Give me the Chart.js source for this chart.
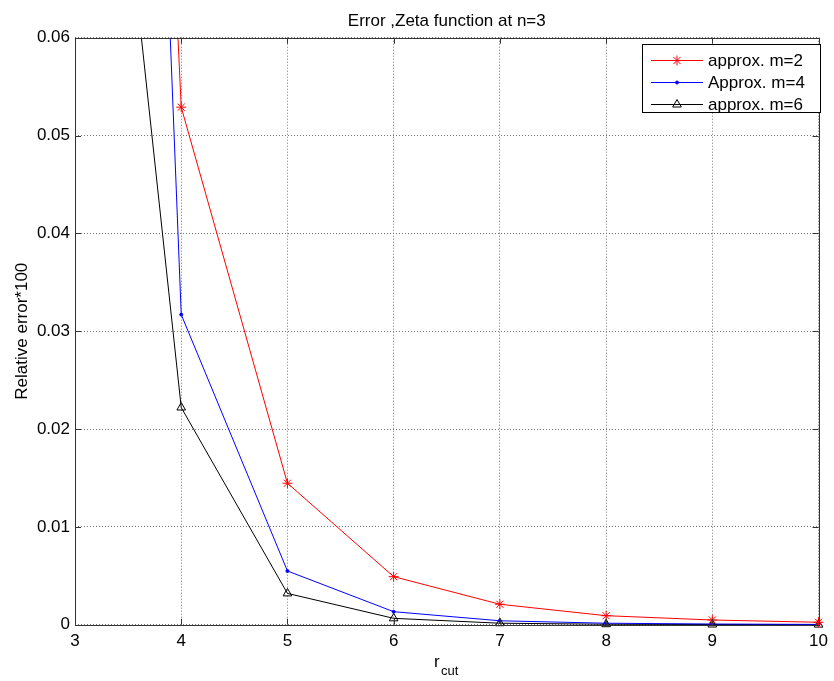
<!DOCTYPE html>
<html>
<head>
<meta charset="utf-8">
<title>Error, Zeta function at n=3</title>
<script src="https://cdn.jsdelivr.net/npm/chart.js@4.4.0/dist/chart.umd.min.js"></script>
<style>
  html, body { margin: 0; padding: 0; background: #fff; }
  #wrap { width: 834px; height: 681px; }
</style>
</head>
<body>
<div id="wrap"><canvas id="errChart" width="834" height="681"></canvas></div>
<script>
// r_cut values and relative error (*100) for each approximation order
const rCut = [3, 4, 5, 6, 7, 8, 9, 10];
const errM2 = [0.285, 0.0529, 0.01446, 0.00491, 0.00209, 0.00092, 0.00048, 0.00025];
const errM4 = [0.306, 0.0317, 0.00549, 0.00133, 0.0004, 0.00015, 0.00007, 0.00003];
const errM6 = [0.123, 0.0222, 0.0032, 0.00065, 0.00015, 0.00005, 0.00002, 0.00001];

const xTickLabels = ['3', '4', '5', '6', '7', '8', '9', '10'];
const yTickLabels = ['0', '0.01', '0.02', '0.03', '0.04', '0.05', '0.06'];

const FONT = "'Liberation Sans', Arial, Helvetica, sans-serif";

function toPoints(ys) {
    return rCut.map((x, i) => ({ x: x, y: ys[i] }));
}

// Axes box, inward ticks, title, legend and the subscripted x label
const matlabFrame = {
    id: 'matlabFrame',
    afterDraw(chart) {
        const ctx = chart.ctx;
        const area = chart.chartArea;
        const xs = chart.scales.x;
        const ys = chart.scales.y;
        const tick = 6;

        ctx.save();
        ctx.strokeStyle = '#333';
        ctx.lineWidth = 1;
        ctx.strokeRect(Math.round(area.left) + 0.5, Math.round(area.top) + 0.5,
            Math.round(area.right - area.left), Math.round(area.bottom - area.top));

        ctx.beginPath();
        xs.ticks.forEach(t => {
            const px = Math.round(xs.getPixelForValue(t.value)) + 0.5;
            ctx.moveTo(px, area.bottom); ctx.lineTo(px, area.bottom - tick);
            ctx.moveTo(px, area.top); ctx.lineTo(px, area.top + tick);
        });
        ys.ticks.forEach(t => {
            const py = Math.round(ys.getPixelForValue(t.value)) + 0.5;
            ctx.moveTo(area.left, py); ctx.lineTo(area.left + tick, py);
            ctx.moveTo(area.right, py); ctx.lineTo(area.right - tick, py);
        });
        ctx.stroke();

        // title, centred over the plot box
        ctx.fillStyle = '#000';
        ctx.font = '17px ' + FONT;
        ctx.textAlign = 'center';
        ctx.textBaseline = 'alphabetic';
        ctx.fillText('Error ,Zeta function at n=3', (area.left + area.right) / 2, 26);

        // legend in the upper right corner
        const lx = 642, ly = 44, lw = 178, lh = 68;
        ctx.fillStyle = '#fff';
        ctx.fillRect(lx, ly, lw, lh);
        ctx.strokeStyle = '#000';
        ctx.strokeRect(lx + 0.5, ly + 0.5, lw, lh);
        const rows = [60, 82, 104];
        ctx.textBaseline = 'middle';
        ctx.textAlign = 'left';
        chart.data.datasets.forEach((ds, i) => {
            const y = rows[i];
            ctx.strokeStyle = ds.borderColor;
            ctx.lineWidth = 1;
            ctx.beginPath();
            ctx.moveTo(651, y + 0.5); ctx.lineTo(703, y + 0.5);
            ctx.stroke();
            ctx.fillStyle = ds.pointBackgroundColor;
            ctx.strokeStyle = ds.pointBorderColor;
            Chart.helpers.drawPoint(ctx, {
                pointStyle: ds.pointStyle, radius: ds.pointRadius,
                rotation: 0, borderWidth: 1
            }, 677, y + 0.5);
            ctx.fillStyle = '#000';
            ctx.font = '17px ' + FONT;
            ctx.fillText(ds.label, 708, y + 1, lx + lw - 714);
        });

        // x axis label r_cut
        ctx.fillStyle = '#000';
        ctx.textBaseline = 'alphabetic';
        ctx.font = '17px ' + FONT;
        ctx.fillText('r', 434, 667);
        ctx.font = '13px ' + FONT;
        ctx.fillText('cut', 441, 675);
        ctx.restore();
    }
};

const ctx = document.getElementById('errChart').getContext('2d');
const errChart = new Chart(ctx, {
    type: 'line',
    data: {
        datasets: [{
            label: 'approx. m=2',
            data: toPoints(errM2),
            borderColor: '#ff0000',
            borderWidth: 1,
            pointStyle: 'star',
            pointRadius: 5,
            pointBorderColor: '#ff0000',
            pointBackgroundColor: '#ff0000',
            pointBorderWidth: 1,
            fill: false,
            tension: 0,
            clip: { left: 0, top: 0, right: 10, bottom: 10 }
        }, {
            label: 'Approx. m=4',
            data: toPoints(errM4),
            borderColor: '#0000ff',
            borderWidth: 1,
            pointStyle: 'circle',
            pointRadius: 1.5,
            pointBorderColor: '#0000ff',
            pointBackgroundColor: '#0000ff',
            pointBorderWidth: 1,
            fill: false,
            tension: 0,
            clip: { left: 0, top: 0, right: 10, bottom: 10 }
        }, {
            label: 'approx. m=6',
            data: toPoints(errM6),
            borderColor: '#000000',
            borderWidth: 1,
            pointStyle: 'triangle',
            pointRadius: 5,
            pointBorderColor: '#000000',
            pointBackgroundColor: 'rgba(0,0,0,0)',
            pointBorderWidth: 1,
            fill: false,
            tension: 0,
            clip: { left: 0, top: 0, right: 10, bottom: 10 }
        }]
    },
    options: {
        responsive: false,
        animation: false,
        devicePixelRatio: 1,
        layout: { padding: { top: 37.7, right: 13, bottom: 0, left: 0 } },
        plugins: {
            legend: { display: false },
            tooltip: { enabled: false },
            title: { display: false }
        },
        scales: {
            x: {
                type: 'linear',
                min: 3,
                max: 10,
                afterFit(scale) { scale.height = 56.3; },
                ticks: {
                    stepSize: 1,
                    autoSkip: false,
                    maxRotation: 0,
                    padding: 6,
                    color: '#000',
                    font: { family: FONT, size: 17 },
                    callback: (v, i) => xTickLabels[i]
                },
                grid: { color: '#777', lineWidth: 1, drawTicks: false },
                border: { display: false, dash: [1, 2] }
            },
            y: {
                min: 0,
                max: 0.06,
                afterFit(scale) { scale.width = 75; },
                ticks: {
                    stepSize: 0.01,
                    padding: 5,
                    color: '#000',
                    font: { family: FONT, size: 17 },
                    callback: (v, i) => yTickLabels[i]
                },
                grid: { color: '#777', lineWidth: 1, drawTicks: false },
                border: { display: false, dash: [1, 2] },
                title: {
                    display: true,
                    text: 'Relative error*100',
                    color: '#000',
                    font: { family: FONT, size: 17 },
                    padding: { top: 12, bottom: 0 }
                }
            }
        }
    },
    plugins: [matlabFrame]
});
</script>
</body>
</html>
